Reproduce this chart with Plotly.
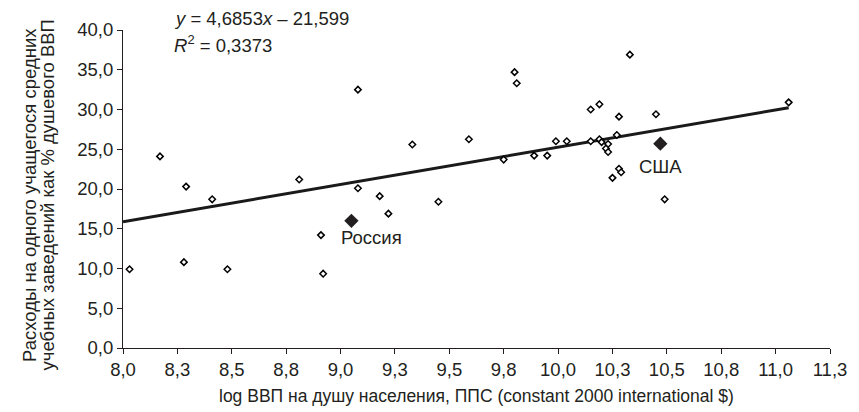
import plotly.graph_objects as go

# Other countries (hollow diamonds)
log_gdp = [8.03, 8.17, 8.28, 8.29, 8.41, 8.48, 8.81, 8.91, 8.92, 9.08,
           9.08, 9.18, 9.22, 9.33, 9.45, 9.59, 9.75, 9.80, 9.81, 9.89,
           9.95, 9.99, 10.04, 10.15, 10.19, 10.15, 10.19, 10.20, 10.23, 10.22,
           10.23, 10.27, 10.28, 10.33, 10.28, 10.29, 10.25, 10.45, 10.49, 11.06]
spending = [9.9, 24.1, 10.8, 20.3, 18.7, 9.9, 21.2, 14.2, 9.35, 32.5,
            20.1, 19.1, 16.9, 25.6, 18.4, 26.25, 23.7, 34.7, 33.3, 24.2,
            24.2, 26.0, 26.0, 30.0, 30.65, 26.0, 26.25, 25.9, 25.66, 25.1,
            24.65, 26.8, 29.1, 36.9, 22.55, 22.1, 21.4, 29.4, 18.7, 30.9]

# Highlighted countries
hl_names = ["Россия", "США"]
hl_x = [9.05, 10.47]
hl_y = [16.0, 25.7]

# Trend line coefficients
slope = 4.6853
intercept = -21.599
r2 = 0.3373
trend_x_start = 8.0

x_ticks = [8.0, 8.25, 8.5, 8.75, 9.0, 9.25, 9.5, 9.75, 10.0, 10.25, 10.5, 10.75, 11.0, 11.25]
x_ticklabels = ["8,0", "8,3", "8,5", "8,8", "9,0", "9,3", "9,5", "9,8", "10,0", "10,3", "10,5", "10,8", "11,0", "11,3"]
y_ticks = [0, 5, 10, 15, 20, 25, 30, 35, 40]

y_title_lines = ["Расходы на одного учащегося средних",
                 "учебных заведений как % душевого ВВП"]
x_title = "log ВВП на душу населения, ППС (constant 2000 international $)"

FONT = "Liberation Sans, Arial, sans-serif"
FS = 18.5
TXT = "#231f20"

all_x = log_gdp + hl_x
line_x = [trend_x_start, max(all_x)]
line_y = [slope * v + intercept for v in line_x]

fig = go.Figure()
fig.add_trace(go.Scatter(
    x=line_x, y=line_y, mode="lines",
    line=dict(color="#1a1a1a", width=3), showlegend=False, hoverinfo="skip"))
fig.add_trace(go.Scatter(
    x=log_gdp, y=spending, mode="markers",
    marker=dict(symbol="diamond", size=5, color="white",
                line=dict(color="black", width=1.5)),
    showlegend=False))
fig.add_trace(go.Scatter(
    x=hl_x, y=hl_y, mode="markers",
    marker=dict(symbol="diamond", size=11, color=TXT,
                line=dict(color=TXT, width=0)),
    showlegend=False))

shifts = {"Россия": (20, -17), "США": (0, -23)}
for n, xv, yv in zip(hl_names, hl_x, hl_y):
    dx, dy = shifts[n]
    fig.add_annotation(x=xv, y=yv, text=n, showarrow=False,
                       xshift=dx, yshift=dy, xanchor="center", yanchor="middle",
                       font=dict(size=FS, color=TXT, family=FONT))

fig.add_annotation(xref="paper", yref="paper", x=0.0698, y=1, yshift=12,
                   xanchor="left", yanchor="middle", showarrow=False,
                   text="<i>y</i> = 4,6853<i>x</i> – 21,599",
                   font=dict(size=FS, color=TXT, family=FONT))
fig.add_annotation(xref="paper", yref="paper", x=0.0698, y=1, yshift=-14,
                   xanchor="left", yanchor="middle", showarrow=False,
                   text="<i>R</i><sup>2</sup> = 0,3373",
                   font=dict(size=FS, color=TXT, family=FONT))

for line_txt, xp in zip(y_title_lines, [-0.133, -0.107]):
    fig.add_annotation(xref="paper", yref="paper", x=xp, y=0.481,
                       xanchor="center", yanchor="middle", showarrow=False,
                       textangle=-90, text=line_txt,
                       font=dict(size=FS, color=TXT, family=FONT))
fig.add_annotation(xref="paper", yref="paper", x=0.5, y=0, yshift=-48,
                   xanchor="center", yanchor="middle", showarrow=False,
                   text=x_title,
                   font=dict(size=17.5, color=TXT, family=FONT))

fig.update_layout(
    width=859, height=412,
    margin=dict(l=123, r=20, t=30, b=64),
    plot_bgcolor="white", paper_bgcolor="white",
    separators=", ",
    font=dict(family=FONT, size=FS, color=TXT),
    xaxis=dict(range=[8.0, 11.25], tickvals=x_ticks, ticktext=x_ticklabels,
               showgrid=False, zeroline=False, showline=True,
               linecolor=TXT, linewidth=1, ticks="outside",
               ticklen=5, tickcolor=TXT, fixedrange=True),
    yaxis=dict(range=[0, 40], tickvals=y_ticks, tickformat=".1f",
               showgrid=False, zeroline=False, showline=True,
               linecolor=TXT, linewidth=1, ticks="outside",
               ticklen=5, tickcolor=TXT, fixedrange=True),
)

fig.write_html("out.html", config={"displayModeBar": False},
               post_script="document.body.style.margin='0';")
